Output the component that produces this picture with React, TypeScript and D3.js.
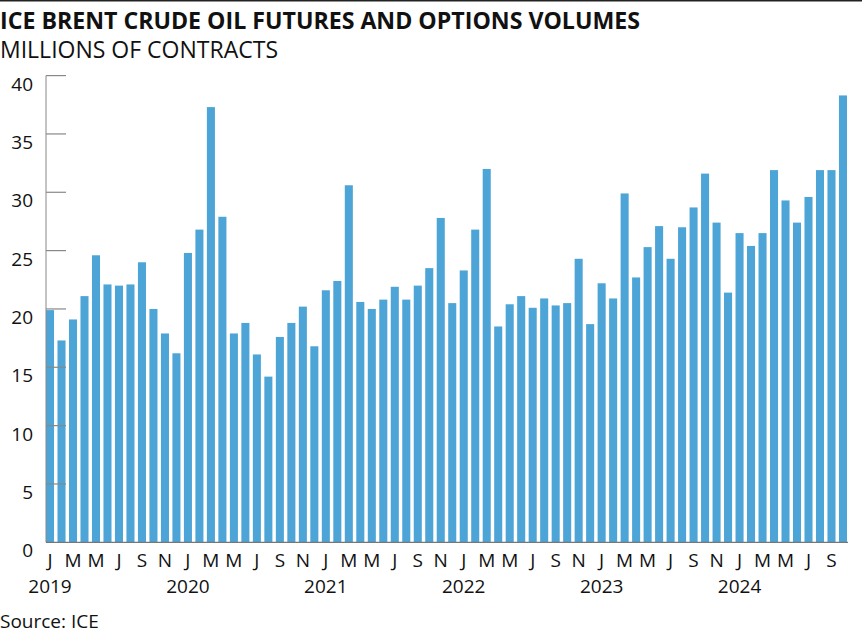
import React from "react";
import * as d3 from "d3";

const years = ["2019", "2020", "2021", "2022", "2023", "2024"];
const monthLetters = ["J", "F", "M", "A", "M", "J", "J", "A", "S", "O", "N", "D"];
// Monthly volumes, Jan 2019 – Oct 2024 (millions of contracts)
const volumes = [
  19.9, 17.3, 19.1, 21.1, 24.6, 22.1, 22.0, 22.1, 24.0, 20.0, 17.9, 16.2,
  24.8, 26.8, 37.3, 27.9, 17.9, 18.8, 16.1, 14.2, 17.6, 18.8, 20.2, 16.8,
  21.6, 22.4, 30.6, 20.6, 20.0, 20.8, 21.9, 20.8, 22.0, 23.5, 27.8, 20.5,
  23.3, 26.8, 32.0, 18.5, 20.4, 21.1, 20.1, 20.9, 20.3, 20.5, 24.3, 18.7,
  22.2, 20.9, 29.9, 22.7, 25.3, 27.1, 24.3, 27.0, 28.7, 31.6, 27.4, 21.4,
  26.5, 25.4, 26.5, 31.9, 29.3, 27.4, 29.6, 31.9, 31.9, 38.3,
];
const yTicks = [0, 5, 10, 15, 20, 25, 30, 35, 40];

const W = 862;
const H = 633;
const FONT = "'Open Sans', 'DejaVu Sans', sans-serif";

export default function App() {
  const keys = volumes.map((_, i) => i);
  const x = d3.scaleBand<number>().domain(keys).range([46, 847]).paddingInner(0.3).paddingOuter(0);
  const y = d3.scaleLinear().domain([0, 40]).range([542.3, 75.6]);
  const bw = x.bandwidth();

  return (
    <div style={{ position: "absolute", left: 0, top: 0 }}>
      <svg width={W} height={H} style={{ display: "block", background: "#fff" }}>
        <line x1={0} x2={W} y1={0.75} y2={0.75} stroke="#222" strokeWidth={1.5} />
        <text x={0} y={28.5} fontFamily={FONT} fontWeight={700} fontSize={23} fill="#111" textLength={640} lengthAdjust="spacingAndGlyphs">
          ICE BRENT CRUDE OIL FUTURES AND OPTIONS VOLUMES
        </text>
        <text x={0} y={57.5} fontFamily={FONT} fontWeight={400} fontSize={23} fill="#111" textLength={278} lengthAdjust="spacingAndGlyphs">
          MILLIONS OF CONTRACTS
        </text>

        {volumes.map((v, i) => (
          <rect key={i} x={x(i)} y={y(v)} width={bw} height={y(0) - y(v)} fill="#4da4d6" />
        ))}

        {/* y axis */}
        <line x1={46} x2={46} y1={y(40)} y2={y(0)} stroke="#888" strokeWidth={1} />
        {yTicks.map((t) => (
          <g key={t}>
            {t > 0 && (
              <line x1={46} x2={66} y1={y(t)} y2={y(t)} stroke="#888" strokeWidth={1.2} />
            )}
            <text
              x={33}
              y={y(t) + 15}
              textAnchor="end"
              fontFamily={FONT}
              fontSize={19}
              fill="#111"
            >
              {t}
            </text>
          </g>
        ))}
        <line x1={46} x2={848} y1={y(0)} y2={y(0)} stroke="#777" strokeWidth={1.2} />

        {volumes.map((_, i) =>
          i % 2 === 0 ? (
            <text
              key={"m" + i}
              x={(x(i) as number) + bw / 2}
              y={567}
              textAnchor="middle"
              fontFamily={FONT}
              fontSize={19}
              fill="#111"
            >
              {monthLetters[i % 12]}
            </text>
          ) : null
        )}
        {years.map((yr, k) => (
          <text
            key={yr}
            x={(x(k * 12) as number) + bw / 2}
            y={593}
            textAnchor="middle"
            fontFamily={FONT}
            fontSize={19}
            fill="#111"
          >
            {yr}
          </text>
        ))}
        <text x={0} y={628} fontFamily={FONT} fontSize={19} fill="#111">
          Source: ICE
        </text>
      </svg>
    </div>
  );
}
